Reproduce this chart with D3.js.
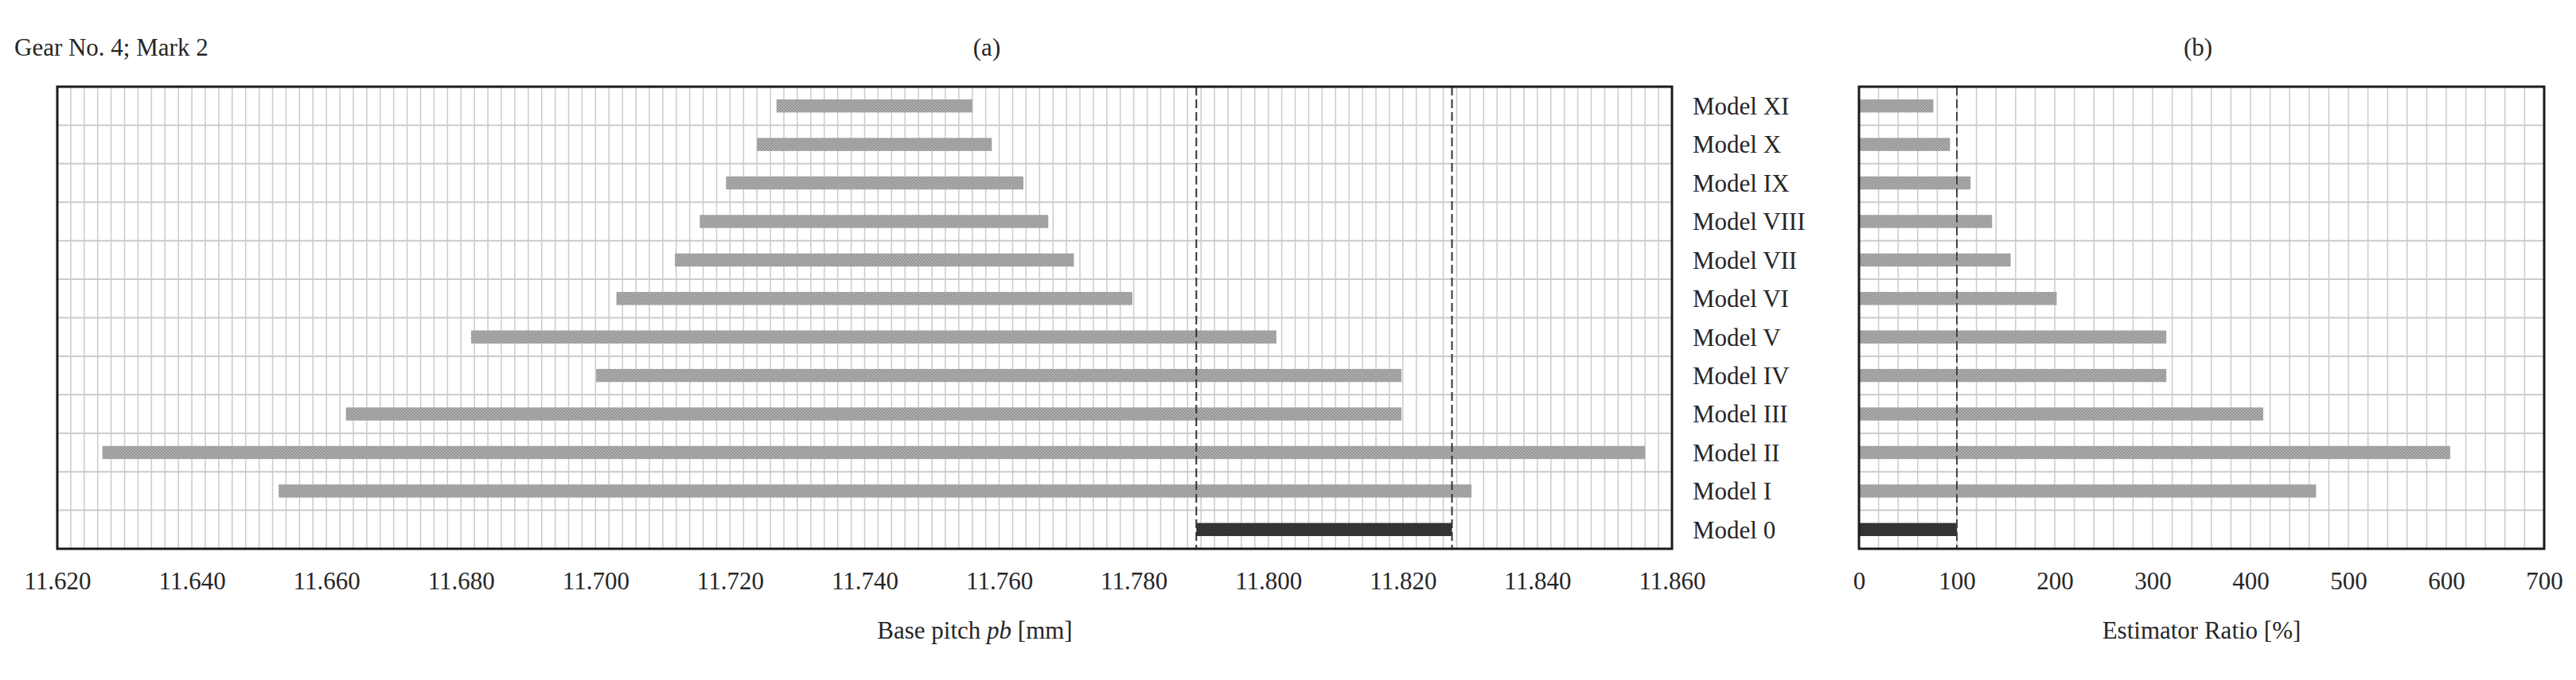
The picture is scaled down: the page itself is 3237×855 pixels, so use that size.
<!DOCTYPE html>
<html>
<head>
<meta charset="utf-8">
<script src="https://cdn.jsdelivr.net/npm/d3@7"></script>
<style>
  html, body { margin: 0; padding: 0; background: #fff; }
  svg text { font-family: "Liberation Serif", "Times New Roman", serif; fill: #262626; }
</style>
</head>
<body>
<svg id="chart" width="3237" height="855"></svg>
<script>
// ---------- data ----------
const categories = ["Model XI", "Model X", "Model IX", "Model VIII", "Model VII", "Model VI",
                    "Model V", "Model IV", "Model III", "Model II", "Model I", "Model 0"];
const pitchLow  = [11.7269, 11.7240, 11.7194, 11.7155, 11.7118, 11.7031,
                   11.6815, 11.7001, 11.6629, 11.6267, 11.6529, 11.7893];
const pitchHigh = [11.7560, 11.7589, 11.7636, 11.7673, 11.7711, 11.7798,
                   11.8012, 11.8198, 11.8198, 11.8560, 11.8302, 11.8273];
const ratioValues = [76, 93, 114, 136, 155, 202, 314, 314, 413, 604, 467, 100];
const pitchRefLines = [11.7893, 11.8273];
const ratioRefLines = [100];
const pitchTicks = [11.620, 11.640, 11.660, 11.680, 11.700, 11.720, 11.740,
                    11.760, 11.780, 11.800, 11.820, 11.840, 11.860];
const ratioTicks = [0, 100, 200, 300, 400, 500, 600, 700];
const pitchMinorStep = 0.002;
const ratioMinorStep = 20;
const referenceModel = "Model 0";

// ---------- layout ----------
const svg = d3.select("#chart");
const yTop = 109, yBottom = 690;
const A = { left: 72, right: 2101 };
const B = { left: 2336, right: 3197 };
const fs = 31;

const y = d3.scaleBand().domain(categories).range([yTop, yBottom]);
const xA = d3.scaleLinear().domain([pitchTicks[0], pitchTicks[pitchTicks.length - 1]]).range([A.left, A.right]);
const xB = d3.scaleLinear().domain([ratioTicks[0], ratioTicks[ratioTicks.length - 1]]).range([B.left, B.right]);

// patterns
const defs = svg.append("defs");
function pat(id, base, dot) {
  const p = defs.append("pattern").attr("id", id).attr("width", 4).attr("height", 4)
    .attr("patternUnits", "userSpaceOnUse");
  p.append("rect").attr("width", 4).attr("height", 4).attr("fill", base);
  p.append("rect").attr("width", 2).attr("height", 2).attr("fill", dot);
  p.append("rect").attr("x", 2).attr("y", 2).attr("width", 2).attr("height", 2).attr("fill", dot);
}
pat("hatchLight", "#adadad", "#979797");
pat("hatchDark", "#3c3c3c", "#2a2a2a");

const gridColor = "#cbcbcb";
const barH = y.bandwidth() * 0.34;

function panel(x, minorStep, lows, highs) {
  const g = svg.append("g");
  const [d0, d1] = x.domain();
  const n = Math.round((d1 - d0) / minorStep);
  const minor = d3.range(1, n).map(i => d0 + i * minorStep);
  g.selectAll(".vg").data(minor).join("line")
    .attr("x1", d => x(d)).attr("x2", d => x(d))
    .attr("y1", yTop).attr("y2", yBottom)
    .attr("stroke", gridColor).attr("stroke-width", 1.5);
  g.selectAll(".hg").data(categories.slice(1)).join("line")
    .attr("x1", x.range()[0]).attr("x2", x.range()[1])
    .attr("y1", d => y(d)).attr("y2", d => y(d))
    .attr("stroke", gridColor).attr("stroke-width", 2);
  g.selectAll(".bar").data(categories).join("rect")
    .attr("x", (d, i) => x(lows[i]))
    .attr("width", (d, i) => x(highs[i]) - x(lows[i]))
    .attr("y", d => y(d) + y.bandwidth() / 2 - barH / 2)
    .attr("height", barH)
    .attr("fill", d => d === referenceModel ? "url(#hatchDark)" : "url(#hatchLight)");
  return g;
}

const gA = panel(xA, pitchMinorStep, pitchLow, pitchHigh);
const gB = panel(xB, ratioMinorStep, categories.map(() => 0), ratioValues);

gA.selectAll(".ref").data(pitchRefLines).join("line")
  .attr("x1", d => xA(d)).attr("x2", d => xA(d)).attr("y1", yTop).attr("y2", yBottom)
  .attr("stroke", "#333").attr("stroke-width", 2).attr("stroke-dasharray", "11,5");
gB.selectAll(".ref").data(ratioRefLines).join("line")
  .attr("x1", d => xB(d)).attr("x2", d => xB(d)).attr("y1", yTop).attr("y2", yBottom)
  .attr("stroke", "#444").attr("stroke-width", 2).attr("stroke-dasharray", "11,5");

[A, B].forEach(p => {
  svg.append("rect").attr("x", p.left).attr("y", yTop)
    .attr("width", p.right - p.left).attr("height", yBottom - yTop)
    .attr("fill", "none").attr("stroke", "#1a1a1a").attr("stroke-width", 3);
});

function axisLabels(x, ticks, fmt) {
  const ax = d3.axisBottom(x).tickValues(ticks).tickFormat(fmt).tickSize(0).tickPadding(0);
  const g = svg.append("g").attr("transform", `translate(0, ${yBottom})`).call(ax);
  g.select(".domain").remove();
  g.selectAll("text").attr("font-size", fs).attr("font-family", "Liberation Serif")
    .attr("fill", "#262626").attr("dy", null).attr("y", 51);
}
axisLabels(xA, pitchTicks, d3.format(".3f"));
axisLabels(xB, ratioTicks, d3.format("d"));

svg.append("g").selectAll("text").data(categories).join("text")
  .attr("x", A.right + 26)
  .attr("y", d => y(d) + y.bandwidth() / 2)
  .attr("dy", "0.35em")
  .attr("font-size", fs)
  .text(d => d);

svg.append("text").attr("x", 18).attr("y", 70).attr("font-size", fs).text("Gear No. 4; Mark 2");
svg.append("text").attr("x", 1240).attr("y", 70).attr("font-size", fs).attr("text-anchor", "middle").text("(a)");
svg.append("text").attr("x", 2762).attr("y", 70).attr("font-size", fs).attr("text-anchor", "middle").text("(b)");

const tA = svg.append("text").attr("x", 1225).attr("y", 803).attr("font-size", fs).attr("text-anchor", "middle");
tA.append("tspan").text("Base pitch ");
tA.append("tspan").attr("font-style", "italic").text("pb");
tA.append("tspan").text(" [mm]");
svg.append("text").attr("x", (B.left + B.right) / 2).attr("y", 803).attr("font-size", fs)
  .attr("text-anchor", "middle").text("Estimator Ratio [%]");
</script>
</body>
</html>
